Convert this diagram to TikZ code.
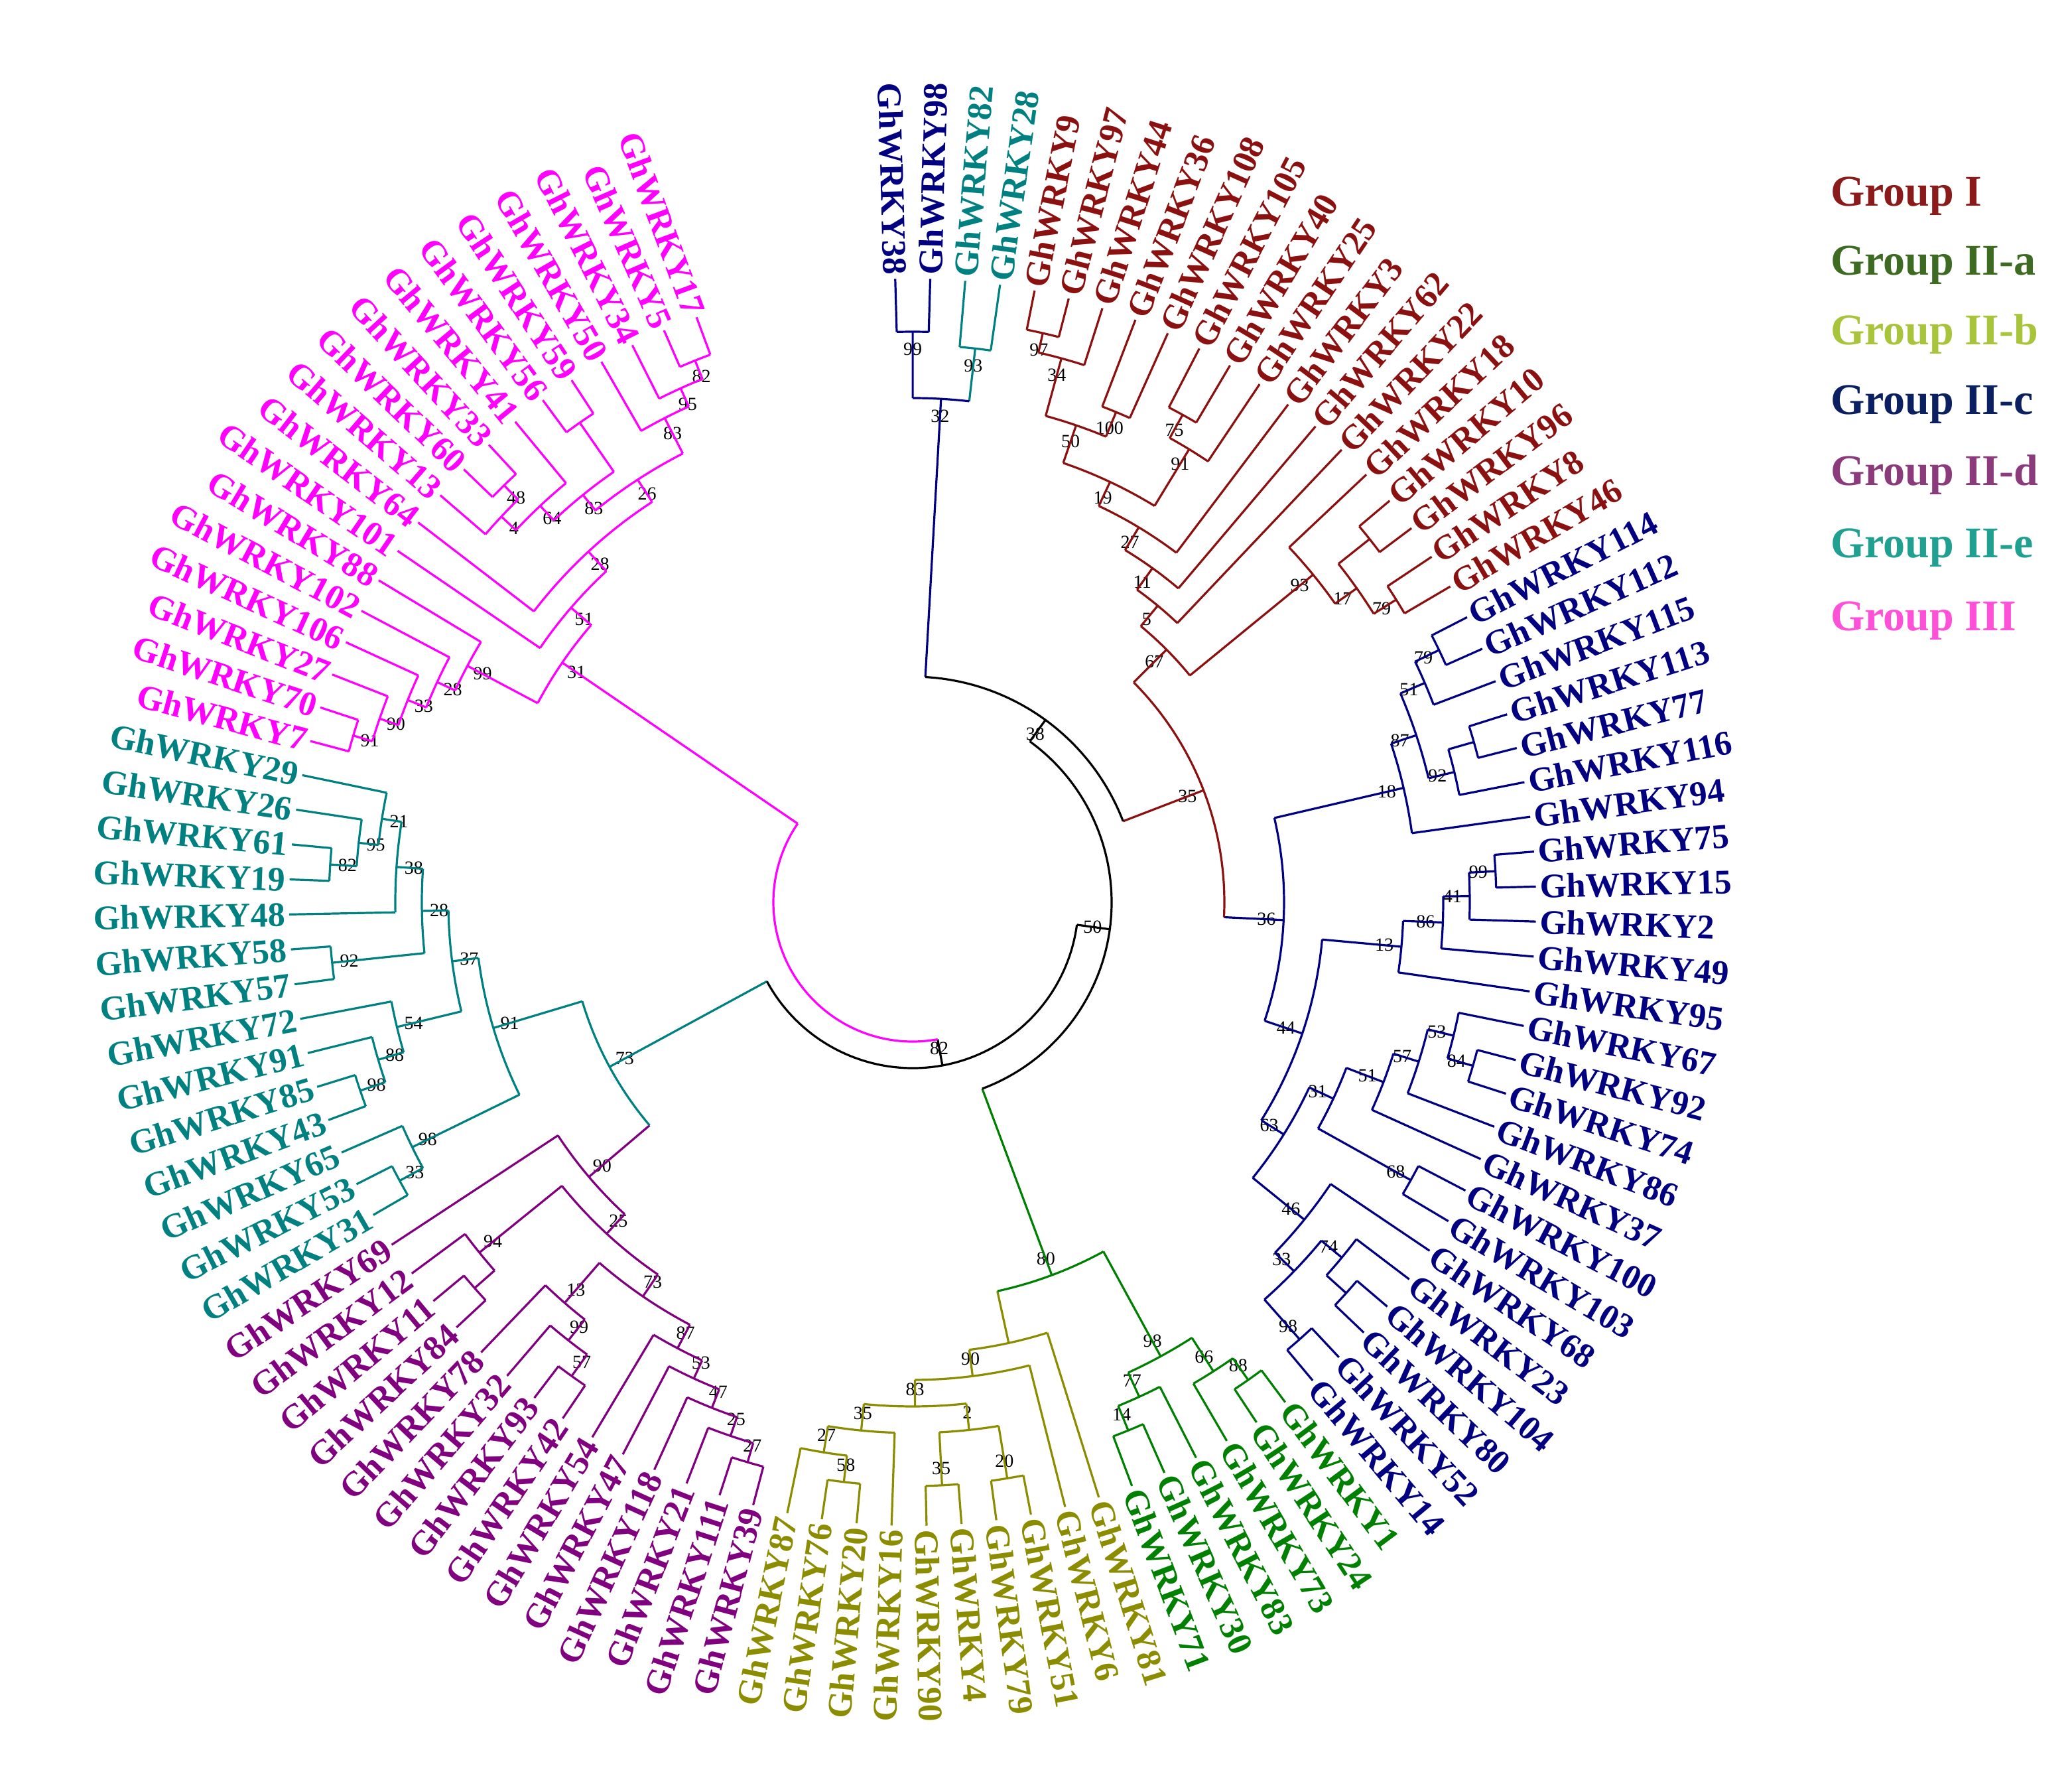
\documentclass[tikz,border=0pt]{standalone}
\usepackage{fontspec}
\setmainfont{Liberation Serif}
\definecolor{GI}{HTML}{8B1010}
\definecolor{IIa}{HTML}{008000}
\definecolor{IIb}{HTML}{8C8C00}
\definecolor{IIc}{HTML}{000080}
\definecolor{IId}{HTML}{800080}
\definecolor{IIe}{HTML}{008080}
\definecolor{III}{HTML}{FF00FF}
\definecolor{LGI}{HTML}{8B1A1A}
\definecolor{LIIa}{HTML}{3D6B22}
\definecolor{LIIb}{HTML}{A8C43A}
\definecolor{LIIc}{HTML}{0A2060}
\definecolor{LIId}{HTML}{8B3A7B}
\definecolor{LIIe}{HTML}{20A090}
\definecolor{LIII}{HTML}{FF50D8}
\newcount\lfi \lfi=0
\newcommand\lf[2]{%
 \pgfmathsetmacro\qa{91.6-3.22*\the\lfi}%
 \global\advance\lfi by 1
 \expandafter\xdef\csname A#1\endcsname{\qa}%
 \expandafter\xdef\csname R#1\endcsname{470}%
 \expandafter\xdef\csname C#1\endcsname{#2}%
 \pgfmathtruncatemacro\qt{cos(\qa)>=0}%
 \ifnum\qt=1
   \node[lab,text=#2,rotate=\qa,anchor=west] (L#1) at (\qa:472pt) {GhWRKY#1};
 \else
   \pgfmathsetmacro\qb{\qa+180}%
   \node[lab,text=#2,rotate=\qb,anchor=east] (L#1) at (\qa:472pt) {GhWRKY#1};
 \fi
 \coordinate (N#1) at (\qa:470pt);
}
\newcommand\cl[6]{%
 \edef\qa{\csname A#3\endcsname}\edef\qb{\csname A#4\endcsname}%
 \edef\qra{\csname R#3\endcsname}\edef\qrb{\csname R#4\endcsname}%
 \edef\qca{\csname C#3\endcsname}\edef\qcb{\csname C#4\endcsname}%
 \pgfmathsetmacro\qm{(\qa+\qb)/2}%
 \pgfmathsetmacro\qr{#2-13}%
 \draw[br,color=\qca] (\qa:#2pt) -- (\qa:\qra pt);
 \draw[br,color=\qcb] (\qb:#2pt) -- (\qb:\qrb pt);
 \draw[br,color=#5] (\qa:#2pt) arc[start angle=\qa, end angle=\qb, radius=#2pt];
 \coordinate (N#1) at (\qm:#2pt);
 \node[bs] (B#1) at (\qm:\qr pt) {#6};
 \expandafter\xdef\csname A#1\endcsname{\qm}%
 \expandafter\xdef\csname R#1\endcsname{#2}%
 \expandafter\xdef\csname C#1\endcsname{#5}%
}
\tikzset{
 lab/.style={font=\fontsize{26}{26}\selectfont\bfseries,inner sep=1pt},
 bs/.style={font=\fontsize{14}{14}\selectfont,inner sep=0pt,text=black},
 br/.style={line width=1.6pt},
 leg/.style={font=\fontsize{33}{33}\selectfont\bfseries,anchor=west,inner sep=0pt}
}
\begin{document}
\begin{tikzpicture}[x=1pt,y=1pt]
\useasboundingbox (-688,-655) rectangle (874,680);
\fill[white] (-688,-655) rectangle (874,680);
% leaves
\lf{38}{IIc}\lf{98}{IIc}\lf{82}{IIe}\lf{28}{IIe}
\foreach \n in {9,97,44,36,108,105,40,25,3,62,22,18,10,96,8,46}{\lf{\n}{GI}}
\foreach \n in {114,112,115,113,77,116,94,75,15,2,49,95,67,92,74,86,37,100,103,68,23,104,80,52,14}{\lf{\n}{IIc}}
\foreach \n in {1,24,73,83,30,71}{\lf{\n}{IIa}}
\foreach \n in {81,6,51,79,4,90,16,20,76,87}{\lf{\n}{IIb}}
\foreach \n in {39,111,21,118,47,54,42,93,32,78,84,11,12,69}{\lf{\n}{IId}}
\foreach \n in {31,53,65,43,85,91,72,57,58,48,19,61,26,29}{\lf{\n}{IIe}}
\foreach \n in {7,70,27,106,102,88,101,64,13,60,33,41,56,59,50,34,5,17}{\lf{\n}{III}}
% top
\cl{t1}{430}{38}{98}{IIc}{99}
\cl{t2}{420}{82}{28}{IIe}{93}
\cl{E}{380}{t1}{t2}{IIc}{32}
% Group I
\cl{n1}{440}{9}{97}{GI}{97}
\cl{n2}{425}{n1}{44}{GI}{34}
\cl{n3}{400}{36}{108}{GI}{100}
\cl{n4}{380}{n2}{n3}{GI}{50}
\cl{n5}{420}{105}{40}{GI}{75}
\cl{n6}{400}{n5}{25}{GI}{91}
\cl{n7}{350}{n4}{n6}{GI}{19}
\cl{n8}{330}{n7}{3}{GI}{27}
\cl{n9}{310}{n8}{62}{GI}{11}
\cl{n10}{290}{n9}{22}{GI}{5}
\cl{n11}{440}{10}{96}{GI}{}
\cl{n12}{430}{8}{46}{GI}{79}
\cl{n13}{410}{n11}{n12}{GI}{17}
\cl{n14}{390}{18}{n13}{GI}{93}
\cl{n15}{270}{n10}{n14}{GI}{67}
% Group II-c
\cl{c1}{440}{114}{112}{IIc}{79}
\cl{c2}{420}{c1}{115}{IIc}{51}
\cl{c3}{440}{113}{77}{IIc}{}
\cl{c4}{420}{c3}{116}{IIc}{92}
\cl{c5}{400}{c2}{c4}{IIc}{87}
\cl{c6}{380}{c5}{94}{IIc}{18}
\cl{c7}{440}{75}{15}{IIc}{99}
\cl{c8}{420}{c7}{2}{IIc}{41}
\cl{c9}{400}{c8}{49}{IIc}{86}
\cl{c10}{370}{c9}{95}{IIc}{13}
\cl{d1}{440}{92}{74}{IIc}{84}
\cl{d2}{420}{67}{d1}{IIc}{53}
\cl{d3}{400}{d2}{86}{IIc}{57}
\cl{d4}{380}{d3}{37}{IIc}{51}
\cl{d5}{430}{100}{103}{IIc}{68}
\cl{d6}{350}{d4}{d5}{IIc}{31}
\cl{d7}{440}{104}{80}{IIc}{}
\cl{d8}{420}{23}{d7}{IIc}{74}
\cl{d9}{440}{52}{14}{IIc}{98}
\cl{d10}{400}{d8}{d9}{IIc}{33}
\cl{d11}{380}{68}{d10}{IIc}{46}
\cl{d12}{330}{d6}{d11}{IIc}{63}
\cl{c11}{310}{c10}{d12}{IIc}{44}
\cl{c12}{280}{c6}{c11}{IIc}{36}
% Group II-a
\cl{a1}{440}{1}{24}{IIa}{88}
\cl{a2}{420}{a1}{73}{IIa}{66}
\cl{a3}{430}{30}{71}{IIa}{14}
\cl{a4}{410}{83}{a3}{IIa}{77}
\cl{a5}{390}{a2}{a4}{IIa}{98}
% Group II-b
\cl{b1}{440}{4}{90}{IIb}{35}
\cl{b2}{440}{51}{79}{IIb}{20}
\cl{b3}{400}{b2}{b1}{IIb}{2}
\cl{b4}{440}{20}{76}{IIb}{58}
\cl{b5}{420}{b4}{87}{IIb}{27}
\cl{b6}{400}{16}{b5}{IIb}{35}
\cl{b7}{380}{b3}{b6}{IIb}{83}
\cl{b8}{360}{6}{b7}{IIb}{90}
\cl{b9}{340}{81}{b8}{IIb}{}
% Group II-d
\cl{p1}{440}{39}{111}{IId}{27}
\cl{p2}{425}{p1}{21}{IId}{25}
\cl{p3}{410}{p2}{118}{IId}{47}
\cl{p4}{395}{p3}{47}{IId}{53}
\cl{p5}{380}{p4}{54}{IId}{87}
\cl{p6}{440}{42}{93}{IId}{57}
\cl{p7}{420}{p6}{32}{IId}{99}
\cl{p8}{400}{p7}{78}{IId}{13}
\cl{p9}{360}{p5}{p8}{IId}{73}
\cl{p10}{440}{84}{11}{IId}{}
\cl{p11}{420}{p10}{12}{IId}{94}
\cl{p12}{340}{p9}{p11}{IId}{25}
\cl{p13}{320}{p12}{69}{IId}{90}
% Group II-e
\cl{e1}{440}{31}{53}{IIe}{33}
\cl{e2}{420}{e1}{65}{IIe}{98}
\cl{e3}{440}{43}{85}{IIe}{98}
\cl{e4}{420}{e3}{91}{IIe}{88}
\cl{e5}{400}{e4}{72}{IIe}{54}
\cl{e6}{440}{57}{58}{IIe}{92}
\cl{e7}{440}{19}{61}{IIe}{82}
\cl{e8}{420}{e7}{26}{IIe}{95}
\cl{e9}{405}{e8}{29}{IIe}{21}
\cl{e10}{390}{48}{e9}{IIe}{38}
\cl{e11}{370}{e6}{e10}{IIe}{28}
\cl{e12}{350}{e5}{e11}{IIe}{37}
\cl{e13}{330}{e2}{e12}{IIe}{91}
% Group III
\cl{m1}{440}{7}{70}{III}{91}
\cl{m2}{425}{m1}{27}{III}{90}
\cl{m3}{410}{m2}{106}{III}{33}
\cl{m4}{395}{m3}{102}{III}{28}
\cl{m5}{380}{m4}{88}{III}{99}
\cl{m6}{440}{60}{33}{III}{48}
\cl{m7}{425}{13}{m6}{III}{4}
\cl{m8}{410}{m7}{41}{III}{64}
\cl{m9}{440}{56}{59}{III}{}
\cl{m10}{395}{m8}{m9}{III}{83}
\cl{m11}{440}{5}{17}{III}{82}
\cl{m12}{425}{34}{m11}{III}{95}
\cl{m13}{410}{50}{m12}{III}{83}
\cl{m14}{380}{m10}{m13}{III}{26}
\cl{m15}{360}{64}{m14}{III}{28}
\cl{m16}{340}{101}{m15}{III}{51}
\cl{m17}{320}{m5}{m16}{III}{31}
% backbone
\cl{F}{235}{n15}{c12}{GI}{35}
\cl{C}{300}{a5}{b9}{IIa}{80}
\cl{A}{260}{p13}{e13}{IIe}{73}
\cl{D}{170}{E}{F}{black}{38}
\cl{B}{150}{D}{C}{black}{50}
\cl{X}{125}{B}{A}{black}{82}
\cl{Root}{105}{X}{m17}{III}{}
% legend
\node[leg,text=LGI] (g1) at (692,532) {Group I};
\node[leg,text=LIIa] (g2) at (692,480) {Group II-a};
\node[leg,text=LIIb] (g3) at (692,428) {Group II-b};
\node[leg,text=LIIc] (g4) at (692,375) {Group II-c};
\node[leg,text=LIId] (g5) at (692,322) {Group II-d};
\node[leg,text=LIIe] (g6) at (692,267) {Group II-e};
\node[leg,text=LIII] (g7) at (692,212) {Group III};
\end{tikzpicture}
\end{document}
